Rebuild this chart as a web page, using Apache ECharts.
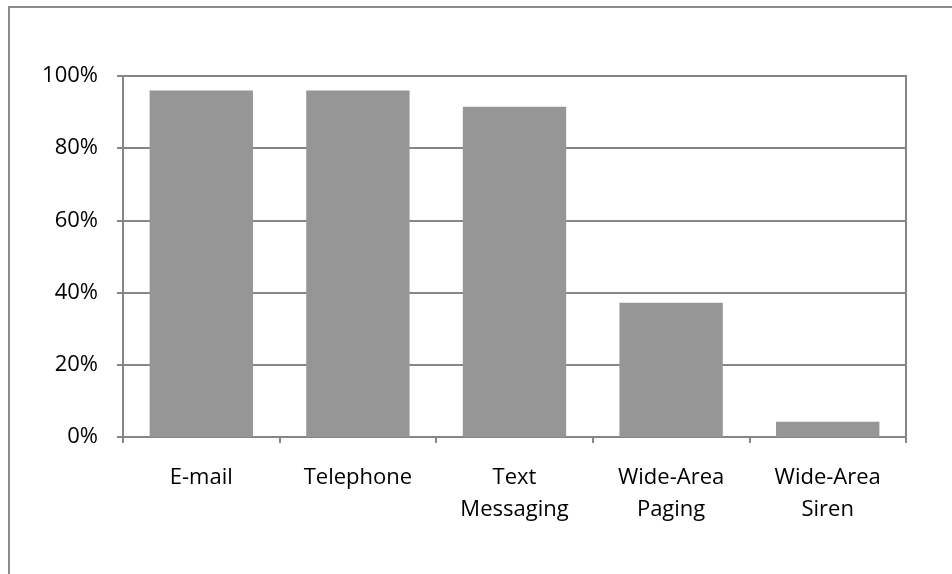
<!DOCTYPE html>
<html>
<head>
<meta charset="utf-8">
<script src="https://cdn.jsdelivr.net/npm/echarts@6/dist/echarts.min.js"></script>
<style>
html,body{margin:0;padding:0;background:#fff;}
#chart{width:952px;height:574px;}
</style>
</head>
<body>
<div id="chart"></div>
<script>
const categories = ['E-mail', 'Telephone', 'Text\nMessaging', 'Wide-Area\nPaging', 'Wide-Area\nSiren'];
const values = [96, 96, 91.5, 37.2, 4.2];
const yTicks = [0, 20, 40, 60, 80, 100];

const chart = echarts.init(document.getElementById('chart'), null, {renderer: 'canvas'});
const gridColor = '#868686';
const fontFamily = '"Open Sans", "Noto Sans", sans-serif';
chart.setOption({
  animation: false,
  backgroundColor: '#ffffff',
  graphic: [{
    type: 'rect',
    shape: {x: 9, y: 7, width: 1000, height: 700},
    style: {fill: 'none', stroke: '#8c8c8c', lineWidth: 2},
    silent: true
  }],
  grid: {
    left: 123, right: 46, top: 76, bottom: 137,
    show: true, borderColor: gridColor, borderWidth: 2, backgroundColor: 'transparent'
  },
  xAxis: {
    type: 'category',
    data: categories,
    axisLine: {lineStyle: {color: gridColor, width: 2}},
    axisTick: {show: true, length: 6, lineStyle: {color: gridColor, width: 2}},
    axisLabel: {
      color: '#000', fontFamily: fontFamily, fontSize: 22, lineHeight: 32, margin: 25
    }
  },
  yAxis: {
    type: 'value',
    min: yTicks[0], max: yTicks[yTicks.length - 1], interval: 20,
    axisLine: {show: true, lineStyle: {color: gridColor, width: 2}},
    axisTick: {show: true, length: 6, lineStyle: {color: gridColor, width: 2}},
    splitLine: {show: true, lineStyle: {color: gridColor, width: 2}},
    axisLabel: {
      color: '#000', fontFamily: fontFamily, fontSize: 22, margin: 25,
      formatter: '{value}%'
    }
  },
  series: [{
    type: 'bar',
    data: values,
    barCategoryGap: '34%',
    itemStyle: {color: '#969696'}
  }]
});
</script>
</body>
</html>
